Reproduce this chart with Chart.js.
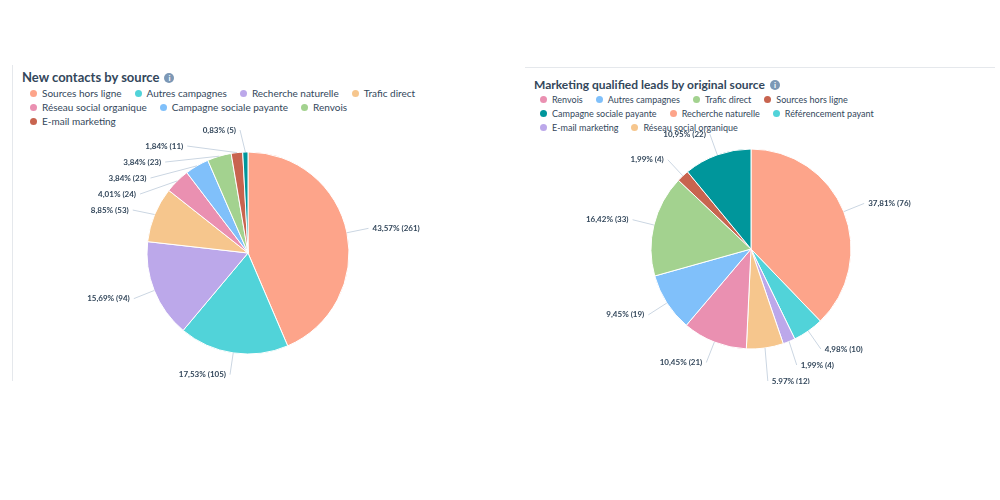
<!DOCTYPE html><html><head><meta charset="utf-8">
<script src="https://cdn.jsdelivr.net/npm/chart.js@4"></script>
<style>
body{margin:0;width:1000px;height:500px;background:#fff;font-family:Lato,"Open Sans",sans-serif;color:#33475b;position:relative;overflow:hidden}
.t{position:absolute;font-weight:700;color:#33475b}
.lg{position:absolute;color:#33475b;line-height:14px}
.lg span{display:inline-block;margin-right:13px;white-space:nowrap}
.lg i{display:inline-block;width:7px;height:7px;border-radius:50%;margin-right:5px;vertical-align:0}
.info{display:inline-block;width:10px;height:10px;border-radius:50%;background:#7c98b6;color:#fff;font-size:8px;text-align:center;line-height:10px;margin-left:5px;vertical-align:1px;font-style:normal}
canvas{position:absolute}
</style></head><body>
<div style="position:absolute;left:12px;top:65px;width:1px;height:316px;background:#e5e8ec"></div>
<div style="position:absolute;left:525px;top:67px;width:470px;height:1px;background:#e5e8ec"></div>
<div class="t" style="left:22px;top:69px;font-size:13px">New contacts by source<i class="info">i</i></div>
<div class="lg" id="lg1" style="left:30px;top:86px;width:400px;font-size:10px"></div>
<div class="t" style="left:534px;top:77px;font-size:12px">Marketing qualified leads by original source<i class="info">i</i></div>
<div class="lg" id="lg2" style="left:540px;top:93px;width:420px;font-size:9px"></div>
<div style="position:absolute;left:1000px"><canvas></canvas></div>
<canvas id="c1" style="left:-2px;top:118px"></canvas>
<canvas id="c2" style="left:501px;top:114px"></canvas>
<script>
const cats1=["Sources hors ligne","Autres campagnes","Recherche naturelle","Trafic direct","Réseau social organique","Campagne sociale payante","Renvois","E-mail marketing","Référencement payant"];
const vals1=[261,105,94,53,24,23,23,11,5];
const cols1=["#fda48a","#51d3d9","#bca8ea","#f6c68d","#ea90b1","#80c0fa","#a3d28f","#c8644f","#00969b"];
const legendN1=8;
const cats2=["Recherche naturelle","Référencement payant","E-mail marketing","Réseau social organique","Renvois","Autres campagnes","Trafic direct","Sources hors ligne","Campagne sociale payante"];
const vals2=[76,10,4,12,21,19,33,4,22];
const cols2=["#fda48a","#51d3d9","#bca8ea","#f6c68d","#ea90b1","#80c0fa","#a3d28f","#c8644f","#00969b"];
const legendOrder2=["Renvois","Autres campagnes","Trafic direct","Sources hors ligne","Campagne sociale payante","Recherche naturelle","Référencement payant","E-mail marketing","Réseau social organique"];

function legend(id,names,cats,cols){
  document.getElementById(id).innerHTML=names.map(n=>`<span><i style="background:${cols[cats.indexOf(n)]}"></i>${n}</span>`).join('');
}
legend('lg1',cats1.slice(0,legendN1),cats1,cols1);
legend('lg2',legendOrder2,cats2,cols2);

const labelPlugin={id:'lbl',afterDatasetsDraw(chart){
  const ctx=chart.ctx,meta=chart.getDatasetMeta(0),data=chart.data.datasets[0].data;
  const tot=data.reduce((a,b)=>a+b,0);
  const items=meta.data.map((arc,i)=>{
    const a=(arc.startAngle+arc.endAngle)/2,r=arc.outerRadius;
    return {i,a,r,x:arc.x,y:arc.y,ly:arc.y+Math.sin(a)*(r+22),right:Math.cos(a)>=0,
      txt:(data[i]/tot*100).toFixed(2).replace('.',',')+'% ('+data[i]+')'};
  });
  // spread labels per side
  [true,false].forEach(side=>{
    const s=items.filter(o=>o.right===side).sort((p,q)=>p.ly-q.ly);
    for(let k=1;k<s.length;k++) if(s[k].ly-s[k-1].ly<16) s[k].ly=s[k-1].ly+16;
  });
  ctx.save();ctx.font='bold 8px Lato, sans-serif';ctx.textBaseline='middle';
  items.forEach(o=>{
    const ex=o.x+Math.cos(o.a)*o.r, ey=o.y+Math.sin(o.a)*o.r;
    const dy=o.ly-o.y;
    let dx=Math.sqrt(Math.max(0,(o.r+22)**2-dy*dy));
    if(Math.abs(dy)>o.r+10) dx=Math.max(dx,Math.abs(Math.cos(o.a))*(o.r+20));
    const lx=o.x+(o.right?1:-1)*Math.max(dx,8);
    ctx.strokeStyle='#cbd6e2';ctx.lineWidth=1;
    ctx.beginPath();ctx.moveTo(ex,ey);ctx.lineTo(lx,o.ly);ctx.stroke();
    ctx.fillStyle='#33475b';ctx.textAlign=o.right?'left':'right';
    ctx.fillText(o.txt,lx+(o.right?4:-4),o.ly);
  });
  ctx.restore();
}};
function pie(id,cats,vals,cols,r){
  new Chart(document.getElementById(id),{type:'pie',
    data:{labels:cats,datasets:[{data:vals,backgroundColor:cols,borderColor:'#fff',borderWidth:1}]},
    options:{responsive:false,animation:false,radius:r,plugins:{legend:{display:false},tooltip:{enabled:false}}},
    plugins:[labelPlugin]});
}
['c1','c2'].forEach(id=>{const c=document.getElementById(id);c.width=500;c.height=270;});
pie('c1',cats1,vals1,cols1,101);
pie('c2',cats2,vals2,cols2,100);
</script></body></html>
